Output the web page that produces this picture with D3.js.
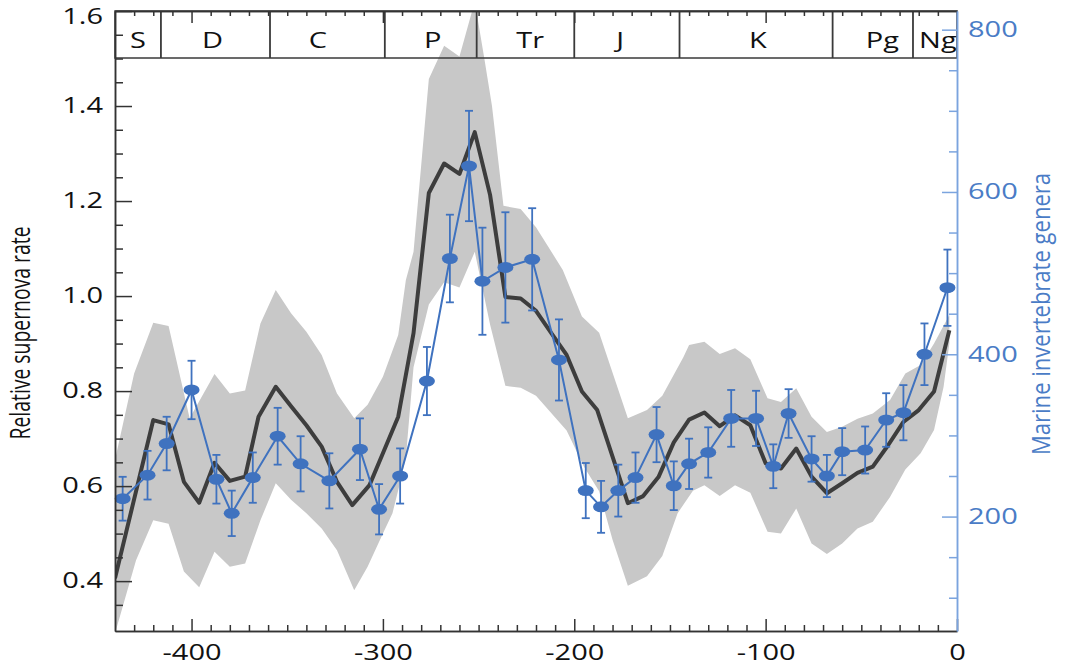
<!DOCTYPE html>
<html>
<head>
<meta charset="utf-8">
<script src="https://cdn.jsdelivr.net/npm/d3@7"></script>
<style>
  body { margin: 0; background: #fff; }
  svg { display: block; }
</style>
</head>
<body>
<svg id="chart" width="1067" height="668"></svg>
<script>
'use strict'

// geologic periods across the top band
const periodNames = ['S', 'D', 'C', 'P', 'Tr', 'J', 'K', 'Pg', 'Ng']
const periodLabelAge = [-428, -389, -334, -274, -223, -176, -104, -39, -10]
const periodBounds = [-416, -359, -299, -251, -200, -145, -65, -23]

// relative supernova rate (black line)
const snAge = [-440, -420, -412, -404, -396, -388, -380, -372, -365, -356, -348, -340, -332, -324, -316, -307, -300, -292, -284, -276,
    -268, -260, -252, -244, -236, -228, -220, -212, -204, -196, -188, -180, -172, -164, -156, -148, -140, -132, -124, -116,
    -108, -100, -92, -84, -76, -68, -60, -52, -44, -36, -28, -20, -12, -4]
const snRate = [0.406, 0.739, 0.730, 0.609, 0.565, 0.649, 0.611, 0.620, 0.746, 0.809, 0.768, 0.728, 0.683, 0.609, 0.560, 0.602, 0.669, 0.746, 0.922, 1.217,
    1.279, 1.257, 1.345, 1.213, 0.998, 0.995, 0.969, 0.922, 0.876, 0.799, 0.760, 0.662, 0.564, 0.579, 0.619, 0.692, 0.740, 0.755, 0.726, 0.749,
    0.728, 0.648, 0.637, 0.679, 0.620, 0.585, 0.606, 0.628, 0.641, 0.686, 0.735, 0.760, 0.799, 0.928]

// uncertainty band of the supernova rate
const bandHighAge = [-440, -430, -420, -412, -401, -388, -380, -372, -364, -356, -348, -340, -332, -324, -315, -308, -300, -292, -288, -284,
    -276, -268, -260, -252, -247, -243, -237, -228, -220, -206, -196, -187, -172, -162, -154, -143, -140, -132, -124, -116,
    -108, -99, -92, -84, -76, -68, -60, -52, -44, -35, -27, -19, -12, -4]
const bandHigh = [0.655, 0.837, 0.944, 0.937, 0.743, 0.836, 0.795, 0.801, 0.942, 1.013, 0.964, 0.925, 0.876, 0.795, 0.743, 0.771, 0.830, 0.918, 1.034, 1.093,
    1.457, 1.527, 1.504, 1.62, 1.50, 1.40, 1.19, 1.183, 1.145, 1.055, 0.957, 0.923, 0.743, 0.760, 0.790, 0.871, 0.897, 0.904, 0.878, 0.890,
    0.867, 0.785, 0.777, 0.806, 0.746, 0.714, 0.725, 0.742, 0.753, 0.781, 0.837, 0.855, 0.900, 0.96]
const bandLowAge = [-440, -437, -429, -420, -412, -404, -396, -388, -380, -372, -364, -356, -348, -340, -332, -324, -315, -308, -300, -295,
    -292, -288, -284, -276, -268, -260, -252, -244, -236, -228, -220, -204, -195, -187, -180, -172, -162, -154, -146, -138,
    -132, -124, -116, -108, -99, -92, -84, -76, -68, -60, -52, -44, -35, -27, -19, -12, -7, -4]
const bandLow = [0.29, 0.332, 0.444, 0.528, 0.521, 0.420, 0.387, 0.462, 0.430, 0.437, 0.528, 0.606, 0.571, 0.543, 0.511, 0.465, 0.381, 0.430, 0.500, 0.543,
    0.591, 0.66, 0.85, 0.982, 1.029, 1.018, 1.093, 0.940, 0.811, 0.807, 0.790, 0.717, 0.641, 0.589, 0.487, 0.390, 0.410, 0.453, 0.543, 0.590,
    0.602, 0.579, 0.602, 0.586, 0.504, 0.500, 0.553, 0.479, 0.457, 0.479, 0.511, 0.525, 0.577, 0.635, 0.669, 0.718, 0.809, 0.90]

// marine invertebrate genera (blue, right axis)
const genusAge = [-436, -423, -413, -400, -387, -379, -368, -355, -343, -328, -312, -302, -291, -277, -265, -255, -248, -236, -222, -208,
    -194, -186, -177, -168, -157, -148, -140, -130, -118, -105, -96, -88, -76, -68, -60, -48, -37, -28, -17, -5]
const genusCount = [222, 251, 290, 356, 246, 204, 248, 299, 265, 244, 283, 209, 250, 367, 518, 632, 490, 507, 517, 393,
    232, 212, 232, 248, 301, 238, 265, 279, 321, 321, 262, 327, 271, 250, 280, 282, 319, 328, 400, 482]
const genusErr = [27, 30, 33, 36, 30, 28, 31, 35, 34, 34, 38, 31, 34, 42, 54, 68, 66, 68, 63, 50,
    34, 32, 32, 31, 34, 30, 31, 31, 35, 34, 27, 30, 28, 26, 29, 29, 33, 34, 38, 47]

const leftTicks = [0.4, 0.6, 0.8, 1.0, 1.2, 1.4, 1.6]
const rightTicks = [200, 400, 600, 800]
const bottomTicks = [-400, -300, -200, -100, 0]

// plot frame in px (window.top is reserved, hence the prefixes)
const frameLeft = 115, frameRight = 957, frameTop = 11, frameBottom = 631, headerBottom = 58
const font = '"Open Sans", "Noto Sans", sans-serif'
const stretchX = 1.38
const blue = '#3f72bf'

const svg = d3.select('#chart')
svg.append('rect').attr('width', 1067).attr('height', 668).attr('fill', '#fff')

const x = d3.scaleLinear().domain([-440, 0]).range([frameLeft, frameRight])
const yL = d3.scaleLinear().domain([0.295, 1.6]).range([frameBottom, frameTop])
const yR = d3.scaleLinear().domain([59, 823]).range([frameBottom, frameTop])

// the figure is horizontally stretched, so stretch every label the same way
function stretch(selection, sx) {
    selection.each(function () {
        const t = d3.select(this)
        const tx = +t.attr('x') || 0
        const ty = +t.attr('y') || 0
        t.attr('x', null).attr('y', null)
            .attr('transform', 'translate(' + tx + ',' + ty + ') scale(' + sx + ',1)')
    })
}

svg.append('clipPath').attr('id', 'plot-clip')
    .append('rect')
    .attr('x', frameLeft).attr('y', frameTop)
    .attr('width', frameRight - frameLeft).attr('height', frameBottom - frameTop)

const plot = svg.append('g').attr('clip-path', 'url(#plot-clip)')

// grey band: upper edge forward, lower edge back
const bandPts = bandHighAge.map((a, i) => [a, bandHigh[i]])
    .concat(bandLowAge.map((a, i) => [a, bandLow[i]]).reverse())
plot.append('path')
    .attr('d', d3.line().x(d => x(d[0])).y(d => yL(d[1]))(bandPts) + 'Z')
    .attr('fill', '#c8c8c8')

// header box with period names
const header = svg.append('g')
header.append('rect')
    .attr('x', frameLeft).attr('y', frameTop)
    .attr('width', frameRight - frameLeft).attr('height', headerBottom - frameTop)
    .attr('fill', 'none').attr('stroke', '#3a3a3a').attr('stroke-width', 1.5)
header.selectAll('line.bound')
    .data(periodBounds)
    .enter()
    .append('line')
    .attr('class', 'bound')
    .attr('x1', d => x(d)).attr('x2', d => x(d))
    .attr('y1', frameTop).attr('y2', headerBottom)
    .attr('stroke', '#3a3a3a').attr('stroke-width', 1.8)
header.selectAll('text')
    .data(periodNames)
    .enter()
    .append('text')
    .attr('x', (d, i) => x(periodLabelAge[i]))
    .attr('y', 48)
    .attr('text-anchor', 'middle')
    .attr('font-family', font).attr('font-size', 21)
    .attr('fill', '#111')
    .text(d => d)
    .call(stretch, stretchX)

// supernova rate
plot.append('path')
    .datum(snAge.map((a, i) => [a, snRate[i]]))
    .attr('d', d3.line().x(d => x(d[0])).y(d => yL(d[1])))
    .attr('fill', 'none')
    .attr('stroke', '#3d3d3d')
    .attr('stroke-width', 4)
    .attr('stroke-linejoin', 'round')

// genera: error bars, line, markers
const genus = genusAge.map((a, i) => ({age: a, n: genusCount[i], err: genusErr[i]}))
const bars = svg.append('g').attr('stroke', blue).attr('stroke-width', 1.8)
bars.selectAll('g')
    .data(genus)
    .enter()
    .append('g')
    .each(function (d) {
        const g = d3.select(this)
        const cx = x(d.age)
        g.append('line').attr('x1', cx).attr('x2', cx)
            .attr('y1', yR(d.n - d.err)).attr('y2', yR(d.n + d.err))
        g.append('line').attr('x1', cx - 4).attr('x2', cx + 4)
            .attr('y1', yR(d.n + d.err)).attr('y2', yR(d.n + d.err))
        g.append('line').attr('x1', cx - 4).attr('x2', cx + 4)
            .attr('y1', yR(d.n - d.err)).attr('y2', yR(d.n - d.err))
    })
svg.append('path')
    .datum(genus)
    .attr('d', d3.line().x(d => x(d.age)).y(d => yR(d.n)))
    .attr('fill', 'none')
    .attr('stroke', blue)
    .attr('stroke-width', 2)
svg.append('g').selectAll('ellipse')
    .data(genus)
    .enter()
    .append('ellipse')
    .attr('cx', d => x(d.age)).attr('cy', d => yR(d.n))
    .attr('rx', 8).attr('ry', 5.5)
    .attr('fill', blue)

// axes, all ticks point inward
function styleAxis(g, color) {
    g.attr('font-family', font).attr('font-size', 21)
    g.selectAll('line').attr('stroke', color).attr('stroke-width', 1.5)
    g.select('.domain').attr('stroke', color).attr('stroke-width', 1.5)
}

const leftMinor = d3.range(0.35, 1.56, 0.05).filter(v => !leftTicks.some(t => Math.abs(t - v) < 1e-6))
svg.append('g').attr('transform', 'translate(' + frameLeft + ',0)')
    .call(d3.axisLeft(yL).tickValues(leftMinor).tickSizeInner(-8).tickSizeOuter(0).tickFormat(''))
    .call(styleAxis, '#333')
const leftAxis = svg.append('g').attr('transform', 'translate(' + frameLeft + ',0)')
    .call(d3.axisLeft(yL).tickValues(leftTicks).tickSizeInner(-17).tickSizeOuter(0).tickPadding(12).tickFormat(d3.format('.1f')))
    .call(styleAxis, '#333')
// the top label sits a little lower so it stays inside the page
leftAxis.selectAll('text')
    .attr('fill', '#111')
    .attr('y', d => d === 1.6 ? 6 : 0)
    .call(stretch, stretchX)

const bottomMinor = d3.range(-430, 0, 10).filter(v => v % 100 !== 0)
svg.append('g').attr('transform', 'translate(0,' + frameBottom + ')')
    .call(d3.axisBottom(x).tickValues(bottomMinor).tickSizeInner(-6).tickSizeOuter(0).tickFormat(''))
    .call(styleAxis, '#333')
const bottomAxis = svg.append('g').attr('transform', 'translate(0,' + frameBottom + ')')
    .call(d3.axisBottom(x).tickValues(bottomTicks).tickSizeInner(-12).tickSizeOuter(0).tickPadding(14).tickFormat(d => d < 0 ? '-' + (-d) : d))
    .call(styleAxis, '#333')
bottomAxis.selectAll('text').attr('fill', '#111').call(stretch, stretchX)

// small ticks along the top of the header
const topAxis = svg.append('g').attr('transform', 'translate(0,' + frameTop + ')')
topAxis.append('g')
    .call(d3.axisTop(x).tickValues(bottomMinor).tickSizeInner(-5).tickSizeOuter(0).tickFormat(''))
    .call(styleAxis, '#333')
topAxis.append('g')
    .call(d3.axisTop(x).tickValues([-400, -300, -200, -100]).tickSizeInner(-12).tickSizeOuter(0).tickFormat(''))
    .call(styleAxis, '#333')

const rightMinor = d3.range(100, 801, 50).filter(v => v % 200 !== 0)
svg.append('g').attr('transform', 'translate(' + frameRight + ',0)')
    .call(d3.axisRight(yR).tickValues(rightMinor).tickSizeInner(-8).tickSizeOuter(0).tickFormat(''))
    .call(styleAxis, '#7ba4de')
const rightAxis = svg.append('g').attr('transform', 'translate(' + frameRight + ',0)')
    .call(d3.axisRight(yR).tickValues(rightTicks).tickSizeInner(-15).tickSizeOuter(0).tickPadding(11))
    .call(styleAxis, '#7ba4de')
rightAxis.selectAll('text').attr('fill', '#4a7cc6').call(stretch, stretchX)

// axis titles
svg.append('text')
    .attr('transform', 'translate(30,333) rotate(-90) scale(1,1.3)')
    .attr('text-anchor', 'middle')
    .attr('font-family', font).attr('font-size', 21)
    .attr('textLength', 213).attr('lengthAdjust', 'spacingAndGlyphs')
    .attr('fill', '#111')
    .text('Relative supernova rate')
svg.append('text')
    .attr('transform', 'translate(1050,314) rotate(-90) scale(1,1.25)')
    .attr('text-anchor', 'middle')
    .attr('font-family', font).attr('font-size', 21)
    .attr('textLength', 282).attr('lengthAdjust', 'spacingAndGlyphs')
    .attr('fill', '#4a7cc6')
    .text('Marine invertebrate genera')
</script>
</body>
</html>
